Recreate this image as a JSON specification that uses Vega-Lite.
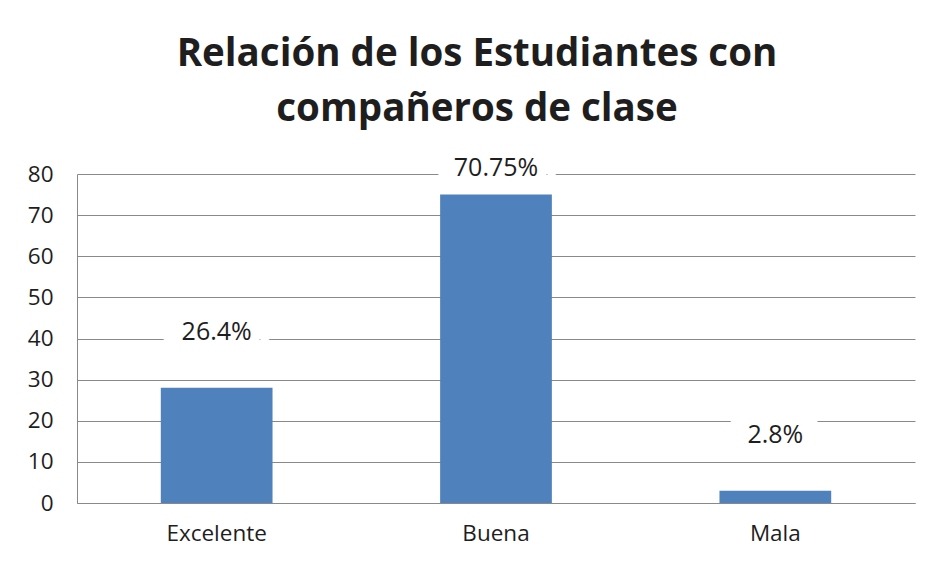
{
  "$schema": "https://vega.github.io/schema/vega-lite/v6.json",
  "autosize": {"type": "none"},
  "width": 838,
  "height": 329,
  "padding": {"left": 77, "top": 174, "right": 19, "bottom": 59},
  "background": "white",
  "title": {
    "text": ["Relación de los Estudiantes con", "compañeros de clase"],
    "font": "Open Sans",
    "fontWeight": "bold",
    "fontSize": 38.5,
    "lineHeight": 55,
    "color": "#1e1e1e",
    "anchor": "middle",
    "dx": -19,
    "offset": 26
  },
  "data": {
    "values": [
      {"categoria": "Excelente", "valor": 28, "etiqueta": "26.4%"},
      {"categoria": "Buena", "valor": 75, "etiqueta": "70.75%"},
      {"categoria": "Mala", "valor": 3, "etiqueta": "2.8%"}
    ]
  },
  "encoding": {
    "x": {
      "field": "categoria",
      "type": "nominal",
      "sort": null,
      "scale": {"paddingInner": 0.6, "paddingOuter": 0.3},
      "axis": {
        "title": null,
        "labelAngle": 0,
        "ticks": false,
        "tickSize": 0,
        "grid": false,
        "domainColor": "#898989",
        "domainWidth": 1,
        "labelFont": "Open Sans",
        "labelFontSize": 22.5,
        "labelColor": "#1e1e1e",
        "labelPadding": 19
      }
    },
    "y": {
      "field": "valor",
      "type": "quantitative",
      "scale": {"domain": [0, 80], "nice": false},
      "axis": {
        "title": null,
        "values": [0, 10, 20, 30, 40, 50, 60, 70, 80],
        "grid": true,
        "gridColor": "#898989",
        "gridWidth": 1,
        "domainColor": "#898989",
        "domainWidth": 1,
        "ticks": false,
        "tickSize": 0,
        "labelFont": "Open Sans",
        "labelFontSize": 22.5,
        "labelColor": "#1e1e1e",
        "labelPadding": 24
      }
    }
  },
  "layer": [
    {
      "mark": {
        "type": "text",
        "font": "Open Sans",
        "fontSize": 25,
        "baseline": "middle",
        "align": "center",
        "fill": "white",
        "stroke": "white",
        "strokeWidth": 38,
        "strokeJoin": "round",
        "yOffset": {"expr": "datum.categoria === 'Buena' ? -27 : -56"}
      },
      "encoding": {"text": {"field": "etiqueta"}}
    },
    {
      "mark": {"type": "bar", "color": "#4F81BD"}
    },
    {
      "mark": {
        "type": "text",
        "font": "Open Sans",
        "fontSize": 25,
        "baseline": "middle",
        "align": "center",
        "color": "#1e1e1e",
        "yOffset": {"expr": "datum.categoria === 'Buena' ? -27 : -56"}
      },
      "encoding": {"text": {"field": "etiqueta"}}
    }
  ],
  "config": {"view": {"stroke": null}}
}
